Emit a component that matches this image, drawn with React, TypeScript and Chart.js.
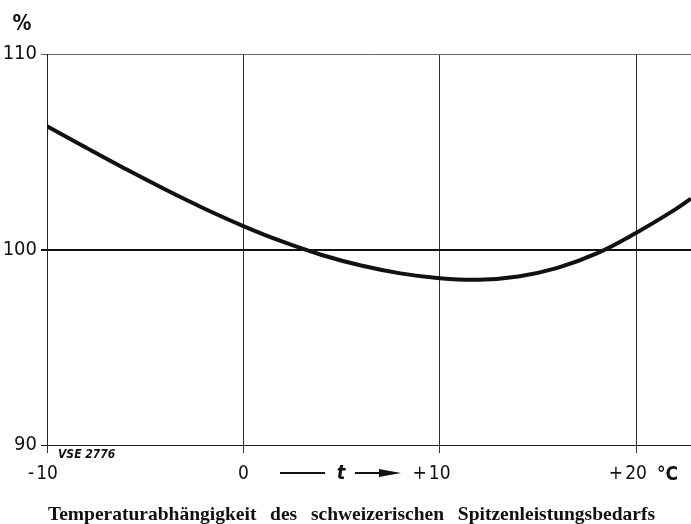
import React, { useEffect, useRef } from 'react';
import { Chart, registerables } from 'chart.js';

Chart.register(...registerables);

// ---- data ----
const temperatures = [-10, -8, -6, -4, -2, 0, 2, 4, 6, 8, 10, 12, 14, 16, 18, 20, 22, 22.8];
const demandPercent = [106.3, 105.2, 104.12, 103.08, 102.1, 101.2, 100.4, 99.72, 99.18, 98.78, 98.53, 98.45, 98.62, 99.06, 99.8, 100.85, 102.05, 102.6];
const xTickValues = [-10, 0, 10, 20];
const xTickLabels = ['-10', '0', '+10', '+20'];
const yTickValues = [90, 100, 110];
const titleText = 'Temperaturabhängigkeit des schweizerischen Spitzenleistungsbedarfs';
const yUnit = '%';
const xUnit = '°C';
const xSymbol = 't';
const sourceCode = 'VSE 2776';

const W = 691;
const H = 524;
const SANS = "'Liberation Sans Narrow','DejaVu Sans Condensed','Liberation Sans',Arial,sans-serif";
const SERIF = "'Liberation Serif','Times New Roman',serif";

export default function App() {
  const ref = useRef<HTMLCanvasElement>(null);

  useEffect(() => {
    const canvas = ref.current!;
    const annot = {
      id: 'annot',
      afterDraw(chart: any) {
        const ctx = chart.ctx as CanvasRenderingContext2D;
        const xs = chart.scales.x;
        const area = chart.chartArea;
        ctx.save();
        ctx.fillStyle = '#111';
        ctx.strokeStyle = '#111';
        ctx.textBaseline = 'alphabetic';

        // x tick labels (digits centred on the grid line, sign hanging left)
        ctx.font = `19px ${SANS}`;
        const base = area.bottom + 34;
        xTickValues.forEach((v, i) => {
          const px = xs.getPixelForValue(v);
          const lab = xTickLabels[i];
          const sign = /^[+-]/.test(lab) ? lab[0] : '';
          const digits = sign ? lab.slice(1) : lab;
          ctx.textAlign = 'center';
          ctx.fillText(digits, px, base);
          if (sign) {
            const w = ctx.measureText(digits).width;
            ctx.textAlign = 'right';
            ctx.fillText(sign, px - w / 2 - 2, base);
          }
        });

        // unit °C
        ctx.font = `bold 19px ${SANS}`;
        ctx.textAlign = 'left';
        ctx.fillText(xUnit, 657, base + 1);

        // % unit
        ctx.font = `bold 21px ${SANS}`;
        ctx.textAlign = 'center';
        ctx.fillText(yUnit, 22, 30);

        // —— t ——►
        const ay = base - 6;
        ctx.lineWidth = 2;
        ctx.beginPath();
        ctx.moveTo(280, ay);
        ctx.lineTo(325, ay);
        ctx.stroke();
        ctx.font = `italic bold 20px ${SANS}`;
        ctx.textAlign = 'center';
        ctx.fillText(xSymbol, 341, base);
        ctx.beginPath();
        ctx.moveTo(355, ay);
        ctx.lineTo(385, ay);
        ctx.stroke();
        ctx.beginPath();
        ctx.moveTo(379, ay - 4);
        ctx.lineTo(401, ay);
        ctx.lineTo(379, ay + 4);
        ctx.closePath();
        ctx.fill();

        // source code
        ctx.font = `italic bold 12px ${SANS}`;
        ctx.textAlign = 'left';
        ctx.fillText(sourceCode, 58, area.bottom + 13);

        // title, words spread from 48 to 655
        ctx.font = `bold 19.5px ${SERIF}`;
        const words = titleText.split(' ');
        const widths = words.map((w) => ctx.measureText(w).width);
        const sum = widths.reduce((a, b) => a + b, 0);
        const x0 = 48, x1 = 655;
        const gap = (x1 - x0 - sum) / (words.length - 1);
        let x = x0;
        ctx.textAlign = 'left';
        words.forEach((w, i) => {
          ctx.fillText(w, x, 520);
          x += widths[i] + gap;
        });
        ctx.restore();
      },
    };

    const chart = new Chart(canvas, {
      type: 'line',
      data: {
        datasets: [
          {
            data: temperatures.map((t, i) => ({ x: t, y: demandPercent[i] })),
            borderColor: '#111',
            borderWidth: 4,
            pointRadius: 0,
            tension: 0.4,
            fill: false,
          },
        ],
      },
      options: {
        animation: false,
        responsive: false,
        devicePixelRatio: 1,
        layout: { padding: { top: 54, left: 0, right: 0, bottom: 0 } },
        plugins: { legend: { display: false }, tooltip: { enabled: false }, title: { display: false } },
        scales: {
          x: {
            type: 'linear',
            min: -10,
            max: 22.8,
            afterBuildTicks: (s: any) => {
              s.ticks = xTickValues.map((v) => ({ value: v }));
            },
            afterFit: (s: any) => {
              s.height = H - 445;
            },
            ticks: { display: false },
            grid: {
              color: '#333',
              lineWidth: 1,
              tickLength: 8,
              drawTicks: true,
            },
            border: { color: '#222', width: 1 },
          },
          y: {
            type: 'linear',
            min: 90,
            max: 110,
            afterBuildTicks: (s: any) => {
              s.ticks = yTickValues.map((v) => ({ value: v }));
            },
            afterFit: (s: any) => {
              s.width = 47;
            },
            ticks: {
              color: '#111',
              padding: 4,
              font: { size: 20, family: SANS },
              callback: (v: any) => String(v),
            },
            grid: {
              color: (c: any) => (c.tick && c.tick.value === 110 ? '#666' : '#111'),
              lineWidth: (c: any) => (c.tick && c.tick.value === 100 ? 2 : 1),
              tickLength: 6,
            },
            border: { color: '#222', width: 1 },
          },
        },
      },
      plugins: [annot],
    } as any);
    return () => chart.destroy();
  }, []);

  return (
    <div style={{ position: 'absolute', left: 0, top: 0, width: W, height: H, background: '#fff' }}>
      <canvas ref={ref} width={W} height={H} style={{ display: 'block' }} />
    </div>
  );
}
